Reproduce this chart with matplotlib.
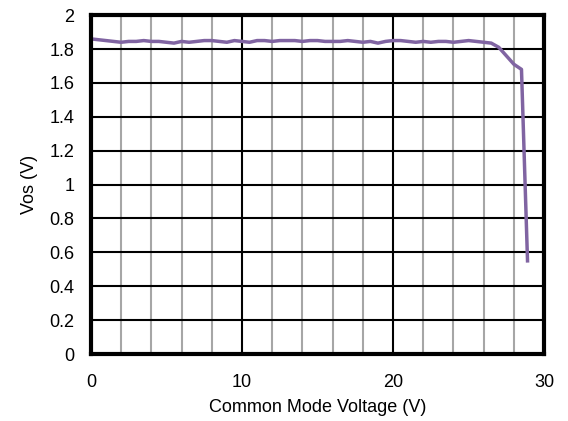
import matplotlib.pyplot as plt
import numpy as np

plt.rcParams['font.family'] = ['Liberation Sans', 'DejaVu Sans']

# common mode voltage (V) and offset (V)
vcm = [0, 0.5, 1, 1.5, 2, 2.5, 3, 3.5, 4, 4.5, 5, 5.5, 6, 6.5, 7, 7.5, 8, 8.5,
       9, 9.5, 10, 10.5, 11, 11.5, 12, 12.5, 13, 13.5, 14, 14.5, 15, 15.5, 16,
       16.5, 17, 17.5, 18, 18.5, 19, 19.5, 20, 20.5, 21, 21.5, 22, 22.5, 23,
       23.5, 24, 24.5, 25, 25.5, 26, 26.5, 27, 27.5, 28, 28.5, 28.9]
vos = [1.86, 1.855, 1.85, 1.845, 1.84, 1.845, 1.845, 1.85, 1.845, 1.845, 1.84,
       1.835, 1.845, 1.84, 1.845, 1.85, 1.85, 1.845, 1.84, 1.85, 1.845, 1.84,
       1.85, 1.85, 1.845, 1.85, 1.85, 1.85, 1.845, 1.85, 1.85, 1.845, 1.845,
       1.845, 1.85, 1.845, 1.84, 1.845, 1.835, 1.845, 1.85, 1.85, 1.845, 1.84,
       1.845, 1.84, 1.845, 1.845, 1.84, 1.845, 1.85, 1.845, 1.84, 1.835, 1.81,
       1.76, 1.71, 1.68, 0.55]

fig = plt.figure(figsize=(5.68, 4.21), dpi=100)
ax = fig.add_axes([0.160, 0.159, 0.798, 0.805])

# minor (gray) vertical grid every 2 V, major (black) every 10 V
for x in np.arange(2, 30, 2):
    if x % 10 != 0:
        ax.axvline(x, color='#a6a6a6', lw=1.5, zorder=1)
for x in [10, 20]:
    ax.axvline(x, color='black', lw=1.5, zorder=1)
for y in np.arange(0.2, 2.0, 0.2):
    ax.axhline(y, color='black', lw=1.5, zorder=1)

ax.plot(vcm, vos, color='#8064A2', lw=2.5, zorder=3)

ax.set_xlim(0, 30)
ax.set_ylim(0, 2)
ax.set_xticks([0, 10, 20, 30])
ax.set_yticks(np.round(np.arange(0, 2.01, 0.2), 1))
ax.set_yticklabels(['0', '0.2', '0.4', '0.6', '0.8', '1', '1.2', '1.4', '1.6', '1.8', '2'])
ax.tick_params(length=0, labelsize=13)
ax.tick_params(axis='x', pad=14)
ax.tick_params(axis='y', pad=12)
for s in ax.spines.values():
    s.set_linewidth(3)
    s.set_zorder(4)

ax.set_xlabel('Common Mode Voltage (V)', fontsize=13, labelpad=6)
ax.set_ylabel('Vos (V)', fontsize=13, labelpad=8)

fig.savefig('out.png', dpi=100)
